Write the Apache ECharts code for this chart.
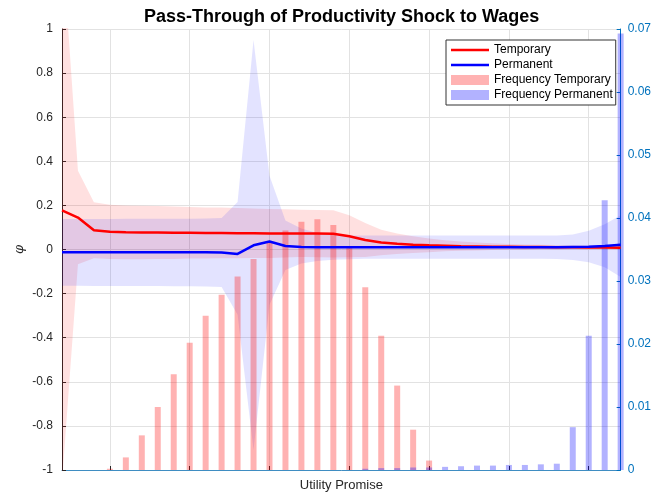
<!DOCTYPE html>
<html>
<head>
<meta charset="utf-8">
<title>Pass-Through of Productivity Shock to Wages</title>
<script src="https://cdn.jsdelivr.net/npm/echarts@6/dist/echarts.min.js"></script>
<style>
  html, body { margin: 0; padding: 0; background: #fff; }
  #chart { width: 654px; height: 497px; }
</style>
</head>
<body>
<div id="chart"></div>
<script>
// grid points of the utility promise (no tick labels in the original)
const categories = ['1', '2', '3', '4', '5', '6', '7', '8', '9', '10', '11', '12',
  '13', '14', '15', '16', '17', '18', '19', '20', '21', '22', '23', '24',
  '25', '26', '27', '28', '29', '30', '31', '32', '33', '34', '35', '36']

// pass-through, temporary shock
const tempLine = [0.177, 0.145, 0.087, 0.080, 0.078, 0.077, 0.077, 0.076, 0.076, 0.075, 0.075, 0.074,
  0.074, 0.073, 0.073, 0.073, 0.072, 0.071, 0.060, 0.043, 0.032, 0.026, 0.022, 0.019,
  0.017, 0.015, 0.014, 0.013, 0.012, 0.011, 0.011, 0.010, 0.010, 0.009, 0.009, 0.008]
const tempUpper = [1.41, 0.357, 0.214, 0.203, 0.200, 0.198, 0.197, 0.195, 0.193, 0.191, 0.190, 0.188,
  0.186, 0.184, 0.182, 0.180, 0.179, 0.178, 0.155, 0.120, 0.090, 0.072, 0.060, 0.050,
  0.042, 0.036, 0.032, 0.028, 0.025, 0.023, 0.021, 0.020, 0.019, 0.018, 0.017, 0.016]
const tempLower = [-1.056, -0.067, -0.040, -0.043, -0.044, -0.044, -0.043, -0.043, -0.041, -0.041, -0.040, -0.040,
  -0.038, -0.038, -0.036, -0.034, -0.035, -0.036, -0.035, -0.034, -0.026, -0.020, -0.016, -0.012,
  -0.008, -0.006, -0.004, -0.002, -0.001, -0.001, 0.001, 0.000, 0.001, 0.000, 0.001, 0.000]

// pass-through, permanent shock
const permLine = [-0.012, -0.012, -0.012, -0.012, -0.012, -0.013, -0.013, -0.013, -0.013, -0.013, -0.014, -0.020,
  0.019, 0.036, 0.016, 0.011, 0.010, 0.010, 0.010, 0.010, 0.010, 0.010, 0.010, 0.010,
  0.010, 0.010, 0.010, 0.010, 0.010, 0.010, 0.010, 0.010, 0.011, 0.012, 0.016, 0.022]
const permUpper = [0.138, 0.138, 0.138, 0.138, 0.139, 0.139, 0.139, 0.140, 0.140, 0.141, 0.143, 0.215,
  0.950, 0.335, 0.132, 0.095, 0.075, 0.067, 0.064, 0.064, 0.064, 0.064, 0.064, 0.064,
  0.064, 0.064, 0.064, 0.064, 0.064, 0.064, 0.064, 0.064, 0.068, 0.085, 0.115, 0.155]
const permLower = [-0.164, -0.164, -0.165, -0.165, -0.165, -0.166, -0.166, -0.167, -0.167, -0.168, -0.170, -0.296,
  -0.910, -0.250, -0.093, -0.063, -0.052, -0.046, -0.044, -0.042, -0.042, -0.042, -0.042, -0.042,
  -0.042, -0.042, -0.042, -0.042, -0.042, -0.042, -0.042, -0.043, -0.048, -0.058, -0.080, -0.125]

// frequencies (right axis)
const freqTemp = [0, 0, 0, 0.0002, 0.0020, 0.0055, 0.0100, 0.0152, 0.0202, 0.0245, 0.0278, 0.0307,
  0.0335, 0.0362, 0.0380, 0.0394, 0.0398, 0.0389, 0.0355, 0.0290, 0.0213, 0.0134, 0.0064, 0.0015,
  0, 0, 0, 0, 0, 0, 0, 0, 0, 0, 0, 0]
const freqPerm = [0, 0, 0, 0, 0, 0, 0, 0, 0, 0, 0, 0,
  0, 0, 0, 0, 0, 0, 0, 0.0002, 0.0003, 0.0003, 0.0004, 0.0004,
  0.0005, 0.0006, 0.0007, 0.0007, 0.0008, 0.0008, 0.0009, 0.0010, 0.0068, 0.0213, 0.0428, 0.0693]

const font = 'Liberation Sans, Arial, Helvetica, sans-serif'
const gridColor = '#e2e2e2'
const rightColor = '#0072BD'
// plain line swatch for the legend (no marker)
const lineIcon = 'path://M0,0L38,0L38,2.5L0,2.5Z'

// every 5th grid point gets a vertical grid line
const everyFifth = (i) => i % 5 === 3

// band = invisible lower line + stacked (upper - lower) area
function band(name, lower, upper, color) {
  const width = upper.map((u, i) => u - lower[i])
  return [{
    name: name + '_lo',
    type: 'line',
    data: lower,
    stack: name,
    stackStrategy: 'all',
    symbol: 'none',
    silent: true,
    lineStyle: { opacity: 0 },
    z: 1
  }, {
    name: name + '_band',
    type: 'line',
    data: width,
    stack: name,
    stackStrategy: 'all',
    symbol: 'none',
    silent: true,
    lineStyle: { opacity: 0 },
    areaStyle: { color: color, opacity: 1 },
    z: 1
  }]
}

const chart = echarts.init(document.getElementById('chart'))

const option = {
  animation: false,
  textStyle: { fontFamily: font },
  title: {
    text: 'Pass-Through of Productivity Shock to Wages',
    left: 139,
    top: 3,
    padding: 5,
    textStyle: { fontSize: 18, fontWeight: 'bold', color: '#000', fontFamily: font }
  },
  legend: {
    orient: 'vertical',
    left: 446,
    top: 40,
    padding: [3, 3, 3, 5],
    itemGap: 1,
    itemWidth: 38,
    itemHeight: 10,
    backgroundColor: '#fff',
    borderColor: '#333',
    borderWidth: 1,
    textStyle: { fontSize: 12, color: '#000', lineHeight: 14, fontFamily: font },
    data: [
      { name: 'Temporary', icon: lineIcon },
      { name: 'Permanent', icon: lineIcon },
      { name: 'Frequency Temporary', icon: 'rect' },
      { name: 'Frequency Permanent', icon: 'rect' }
    ]
  },
  grid: { left: 62, right: 32, top: 29, bottom: 24 },
  xAxis: {
    type: 'category',
    data: categories,
    boundaryGap: false,
    name: 'Utility Promise',
    nameLocation: 'middle',
    nameGap: 9,
    nameTextStyle: { fontSize: 13, color: '#262626', verticalAlign: 'top' },
    axisLine: { onZero: false, lineStyle: { color: '#3f8dc2', width: 1 } },
    axisTick: { show: true, inside: true, length: 4, interval: everyFifth, lineStyle: { color: '#262626' } },
    axisLabel: { show: false },
    splitLine: { show: true, interval: everyFifth, lineStyle: { color: gridColor } }
  },
  yAxis: [{
    type: 'value',
    position: 'left',
    min: -1,
    max: 1,
    interval: 0.2,
    name: 'φ',
    nameLocation: 'middle',
    nameGap: 36,
    nameMoveOverlap: false,
    nameTextStyle: { fontSize: 13, fontStyle: 'italic', color: '#262626', fontFamily: 'DejaVu Serif' },
    axisLine: { show: true, onZero: false, lineStyle: { color: '#262626' } },
    axisTick: { show: true, inside: true, length: 4, lineStyle: { color: '#262626' } },
    axisLabel: { fontSize: 12, color: '#262626', margin: 9 },
    splitLine: { show: true, lineStyle: { color: gridColor } }
  }, {
    type: 'value',
    position: 'right',
    min: 0,
    max: 0.07,
    interval: 0.01,
    axisLine: { show: true, onZero: false, lineStyle: { color: rightColor } },
    axisTick: { show: true, inside: true, length: 4, lineStyle: { color: rightColor } },
    axisLabel: { fontSize: 12, color: rightColor, margin: 7 },
    splitLine: { show: false }
  }],
  series: [
    ...band('temp', tempLower, tempUpper, 'rgba(255,0,0,0.12)'),
    ...band('perm', permLower, permUpper, 'rgba(0,0,255,0.11)'),
    {
      name: 'Frequency Temporary',
      type: 'bar',
      yAxisIndex: 1,
      data: freqTemp,
      barWidth: 6,
      barGap: '-100%',
      itemStyle: { color: 'rgba(255,0,0,0.3)' },
      z: 2
    },
    {
      name: 'Frequency Permanent',
      type: 'bar',
      yAxisIndex: 1,
      data: freqPerm,
      barWidth: 6,
      barGap: '-100%',
      itemStyle: { color: 'rgba(0,0,255,0.3)' },
      z: 2
    },
    {
      name: 'Temporary',
      type: 'line',
      data: tempLine,
      symbol: 'none',
      color: '#ff0000',
      lineStyle: { color: '#ff0000', width: 2.5 },
      z: 3
    },
    {
      name: 'Permanent',
      type: 'line',
      data: permLine,
      symbol: 'none',
      color: '#0000ff',
      lineStyle: { color: '#0000ff', width: 2.5 },
      z: 3
    }
  ]
}

chart.setOption(option)
</script>
</body>
</html>
